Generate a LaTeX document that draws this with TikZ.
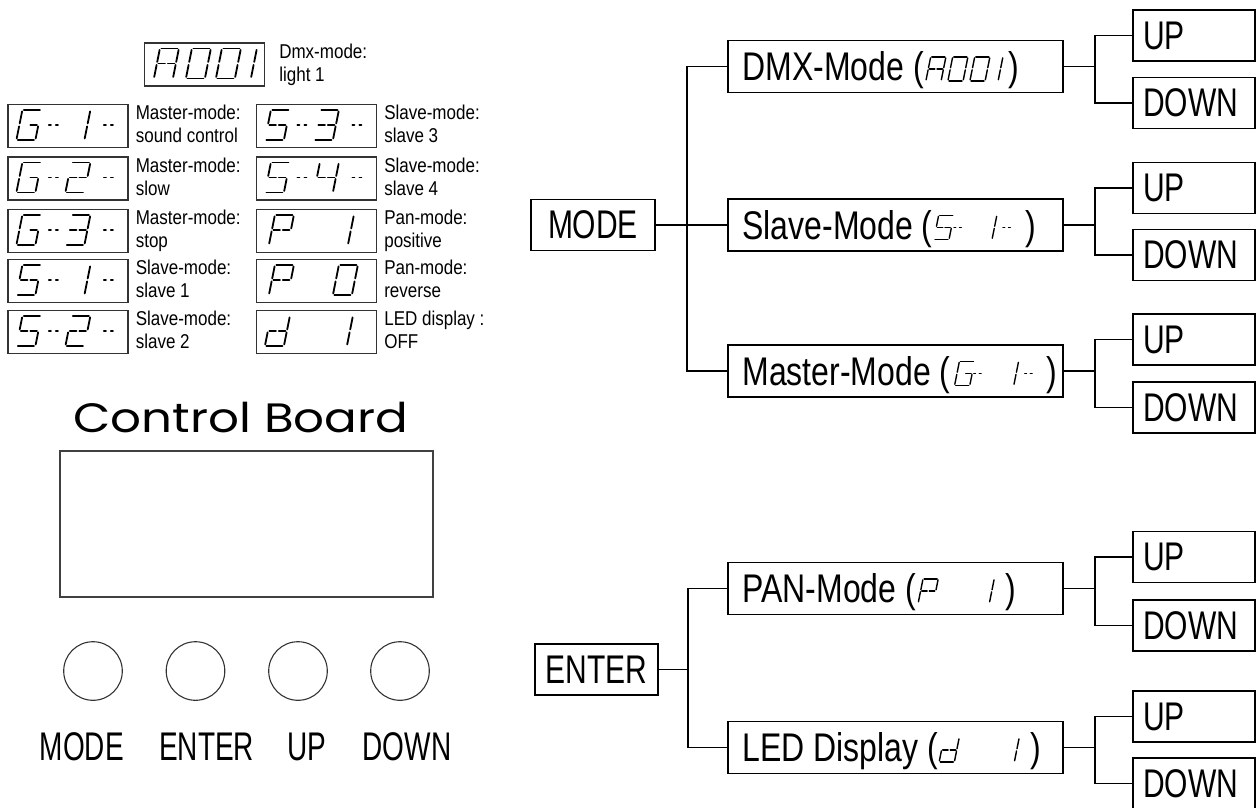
\documentclass[tikz,border=0pt]{standalone}
\usepackage{fontspec}
\setmainfont{Liberation Sans}
\newfontfamily\treefont[FakeStretch=0.75]{Liberation Sans}
\newfontfamily\menufont[FakeStretch=0.8]{Liberation Sans}
\newfontfamily\notefont[FakeStretch=0.85]{Liberation Sans}
\newfontfamily\keyfont[FakeStretch=0.7]{Liberation Sans}
\newfontfamily\boardfont[FakeStretch=1.18]{Poppins}
\usepackage{tikz}
\usetikzlibrary{positioning}

% seven segment glyphs: pairs of corner points
\def\segA{0/1,1/3,3/5,2/4,0/2,2/m,m/3}
\def\segO{0/1,1/3,3/5,4/5,2/4,0/2}
\def\segI{1/3,3/5}
\def\segG{0/1,0/2,2/4,4/5,3/5,m/3}
\def\segTwo{0/1,1/3,2/m,m/3,2/4,4/5}
\def\segThree{0/1,1/3,2/m,m/3,3/5,4/5}
\def\segFour{0/2,2/m,m/3,1/3,3/5}
\def\segS{0/1,0/2,2/m,m/3,3/5,4/5}
\def\segP{0/1,1/3,0/2,2/m,m/3,2/4}
\def\segD{1/3,3/5,2/m,m/3,2/4,4/5}
\def\segDash{a/b,c/d}

\tikzset{
  seg/.pic={
    \coordinate (c0) at (6,0);
    \coordinate (c1) at (25,0);
    \coordinate (c2) at (3,15);
    \coordinate (c3) at (22,15);
    \coordinate (c4) at (0,30);
    \coordinate (c5) at (19,30);
    \coordinate (cm) at (12.5,15);
    \coordinate (ca) at (0,15);
    \coordinate (cb) at (5,15);
    \coordinate (cc) at (7,15);
    \coordinate (cd) at (12,15);
    \edef\seglist{#1}
    \foreach \u/\v in \seglist \draw[segline] (c\u) -- (c\v);
  },
  segline/.style={line width=1.8pt, line cap=round, shorten <=1.5pt, shorten >=1.5pt},
  small seg/.style={scale=.8,
    segline/.style={line width=1.4pt, line cap=round, shorten <=1.1pt, shorten >=1.1pt}}
}

\begin{document}
\begin{tikzpicture}[x=1pt,y=-1pt,line join=miter]
  \tikzstyle{lcd}=[draw=black!80, line width=1.2pt, minimum width=120pt, minimum height=43pt, inner sep=0pt]
  \tikzstyle{note}=[anchor=base west, inner sep=0pt, font=\notefont\fontsize{20}{24}\selectfont]
  \tikzstyle{menu}=[draw, line width=1.7pt, minimum width=335pt, minimum height=52pt, inner sep=0pt]
  \tikzstyle{menutext}=[anchor=base west, inner sep=0pt, font=\menufont\fontsize{40}{48}\selectfont]
  \tikzstyle{key}=[draw, line width=1.7pt, minimum height=51pt, inner sep=0pt, font=\treefont\fontsize{40}{48}\selectfont]
  \tikzstyle{updown}=[key, text width=102pt, inner xsep=10pt, align=left]
  \tikzstyle{wire}=[line width=1.7pt]
  \tikzstyle{button}=[circle, draw=black!80, line width=1.1pt, minimum size=58.6pt, inner sep=0pt]
  \tikzstyle{keylabel}=[anchor=base, inner sep=0pt, font=\keyfont\fontsize{40}{48}\selectfont]

  \useasboundingbox (0,0) rectangle (1257,807);

  % display codes
  \node[lcd] (code-a001) at (204.5,64.5) {};
  \foreach \dx/\g in {10/\segA,42/\segO,72/\segO,88/\segI}
    \pic at ([xshift=\dx pt,yshift=-6pt]code-a001.north west) {seg=\g};
  \node[note] (note-a001a) at ([xshift=14pt,yshift=-16pt]code-a001.north east) {Dmx-mode:};
  \node[note] (note-a001b) at ([xshift=14pt,yshift=-39pt]code-a001.north east) {light 1};

  \foreach \n/\x/\y/\la/\lb in {g1/68/126/Master-mode:/sound control,
      g2/68/178.5/Master-mode:/slow, g3/68/231/Master-mode:/stop,
      s1/68/281/Slave-mode:/slave 1, s2/68/332/Slave-mode:/slave 2,
      s3/316.5/126/Slave-mode:/slave 3, s4/316.5/178.5/Slave-mode:/slave 4,
      p1/316.5/231/Pan-mode:/positive, p0/316.5/281/Pan-mode:/reverse,
      d1/316.5/332/LED display :/OFF} {
    \node[lcd] (code-\n) at (\x,\y) {};
    \node[note] (note-\n a) at ([xshift=7pt,yshift=-16pt]code-\n.north east) {\la};
    \node[note] (note-\n b) at ([xshift=7pt,yshift=-39pt]code-\n.north east) {\lb};
  }
  \foreach \n/\ga/\gb in {g1/\segG/\segI, g2/\segG/\segTwo, g3/\segG/\segThree,
      s1/\segS/\segI, s2/\segS/\segTwo, s3/\segS/\segThree, s4/\segS/\segFour} {
    \pic at ([xshift=9pt,yshift=-6pt]code-\n.north west) {seg=\ga};
    \pic at ([xshift=40pt,yshift=-6pt]code-\n.north west) {seg=\segDash};
    \pic at ([xshift=58pt,yshift=-6pt]code-\n.north west) {seg=\gb};
    \pic at ([xshift=95pt,yshift=-6pt]code-\n.north west) {seg=\segDash};
  }
  \foreach \n/\ga/\xa/\gb/\xb in {p1/\segP/13/\segI/73, p0/\segP/13/\segO/77, d1/\segD/9/\segI/72} {
    \pic at ([xshift=\xa pt,yshift=-6pt]code-\n.north west) {seg=\ga};
    \pic at ([xshift=\xb pt,yshift=-6pt]code-\n.north west) {seg=\gb};
  }

  % control board
  \node[anchor=base, inner sep=0pt, font=\boardfont\fontsize{41}{48}\selectfont] (title) at (241,432) {Control Board};
  \node[draw=black!75, line width=1.2pt, minimum width=373pt, minimum height=146pt, inner sep=0pt] (screen) at (246.5,524) {};
  \foreach \n/\x/\lx/\t in {mode/93/81.7/MODE, enter/195.5/206.7/ENTER, up/298/307/UP, down/400/407/DOWN} {
    \node[button] (btn-\n) at (\x,671) {};
    \node[keylabel] (lbl-\n) at (\lx,760) {\t};
  }

  % menu tree
  \node[key, minimum width=124pt] (mode) at (593,225) {MODE};
  \node[menu] (dmx)    at (895.5,66.5)  {};
  \node[menu] (slave)  at (895.5,225)   {};
  \node[menu] (master) at (895.5,371)   {};
  \node[key, minimum width=123pt] (enter) at (596.5,669.5) {ENTER};
  \node[menu] (pan)    at (895.5,588.5) {};
  \node[menu] (led)    at (895.5,747.5) {};

  \foreach \b/\ya/\yb in {dmx/35.5/103, slave/188/255, master/339.5/407.5, pan/557/625.5, led/716.5/783.5} {
    \node[updown] (\b-up)   at (1194,\ya) {UP};
    \node[updown] (\b-down) at (1194,\yb) {DOWN};
    \draw[wire] (\b.east) -- ++(31,0) coordinate (\b-fork);
    \draw[wire] (\b-up.west) -| (\b-fork) |- (\b-down.west);
  }

  \draw[wire] (mode) -- (slave);
  \draw[wire] (dmx.west) -| ([xshift=31pt]mode.east) |- (master.west);
  \draw[wire] (enter.east) -- ++(29,0) coordinate (enter-fork);
  \draw[wire] (pan.west) -| (enter-fork) |- (led.west);

  % menu texts
  \node[menutext] (dmxt) at ([xshift=15pt,yshift=-14.3pt]dmx.west) {DMX-Mode (};
  \foreach \dx/\g in {2/\segA,24/\segO,46/\segO,59/\segI}
    \pic[small seg] at ([xshift=\dx pt,yshift=24pt]dmxt.base east) {seg=\g};
  \node[menutext] (dmxp) at ([xshift=84pt]dmxt.base east) {)};

  \node[menutext] (slavet) at ([xshift=15pt,yshift=-14.3pt]slave.west) {Slave-Mode (};
  \foreach \dx/\g in {1/\segS,20/\segDash,44/\segI,69/\segDash}
    \pic[small seg] at ([xshift=\dx pt,yshift=24pt]slavet.base east) {seg=\g};
  \node[menutext] (slavep) at ([xshift=92pt]slavet.base east) {)};

  \node[menutext] (mastert) at ([xshift=15pt,yshift=-14.3pt]master.west) {Master-Mode (};
  \foreach \dx/\g in {4/\segG,22/\segDash,48/\segI,73/\segDash}
    \pic[small seg] at ([xshift=\dx pt,yshift=24pt]mastert.base east) {seg=\g};
  \node[menutext] (masterp) at ([xshift=96pt]mastert.base east) {)};

  \node[menutext] (pant) at ([xshift=15pt,yshift=-14.3pt]pan.west) {PAN-Mode (};
  \foreach \dx/\g in {2/\segP,58/\segI}
    \pic[small seg] at ([xshift=\dx pt,yshift=24pt]pant.base east) {seg=\g};
  \node[menutext] (panp) at ([xshift=89pt]pant.base east) {)};

  \node[menutext] (ledt) at ([xshift=15pt,yshift=-14.3pt]led.west) {LED Display (};
  \foreach \dx/\g in {1/\segD,61/\segI}
    \pic[small seg] at ([xshift=\dx pt,yshift=24pt]ledt.base east) {seg=\g};
  \node[menutext] (ledp) at ([xshift=92pt]ledt.base east) {)};
\end{tikzpicture}
\end{document}
